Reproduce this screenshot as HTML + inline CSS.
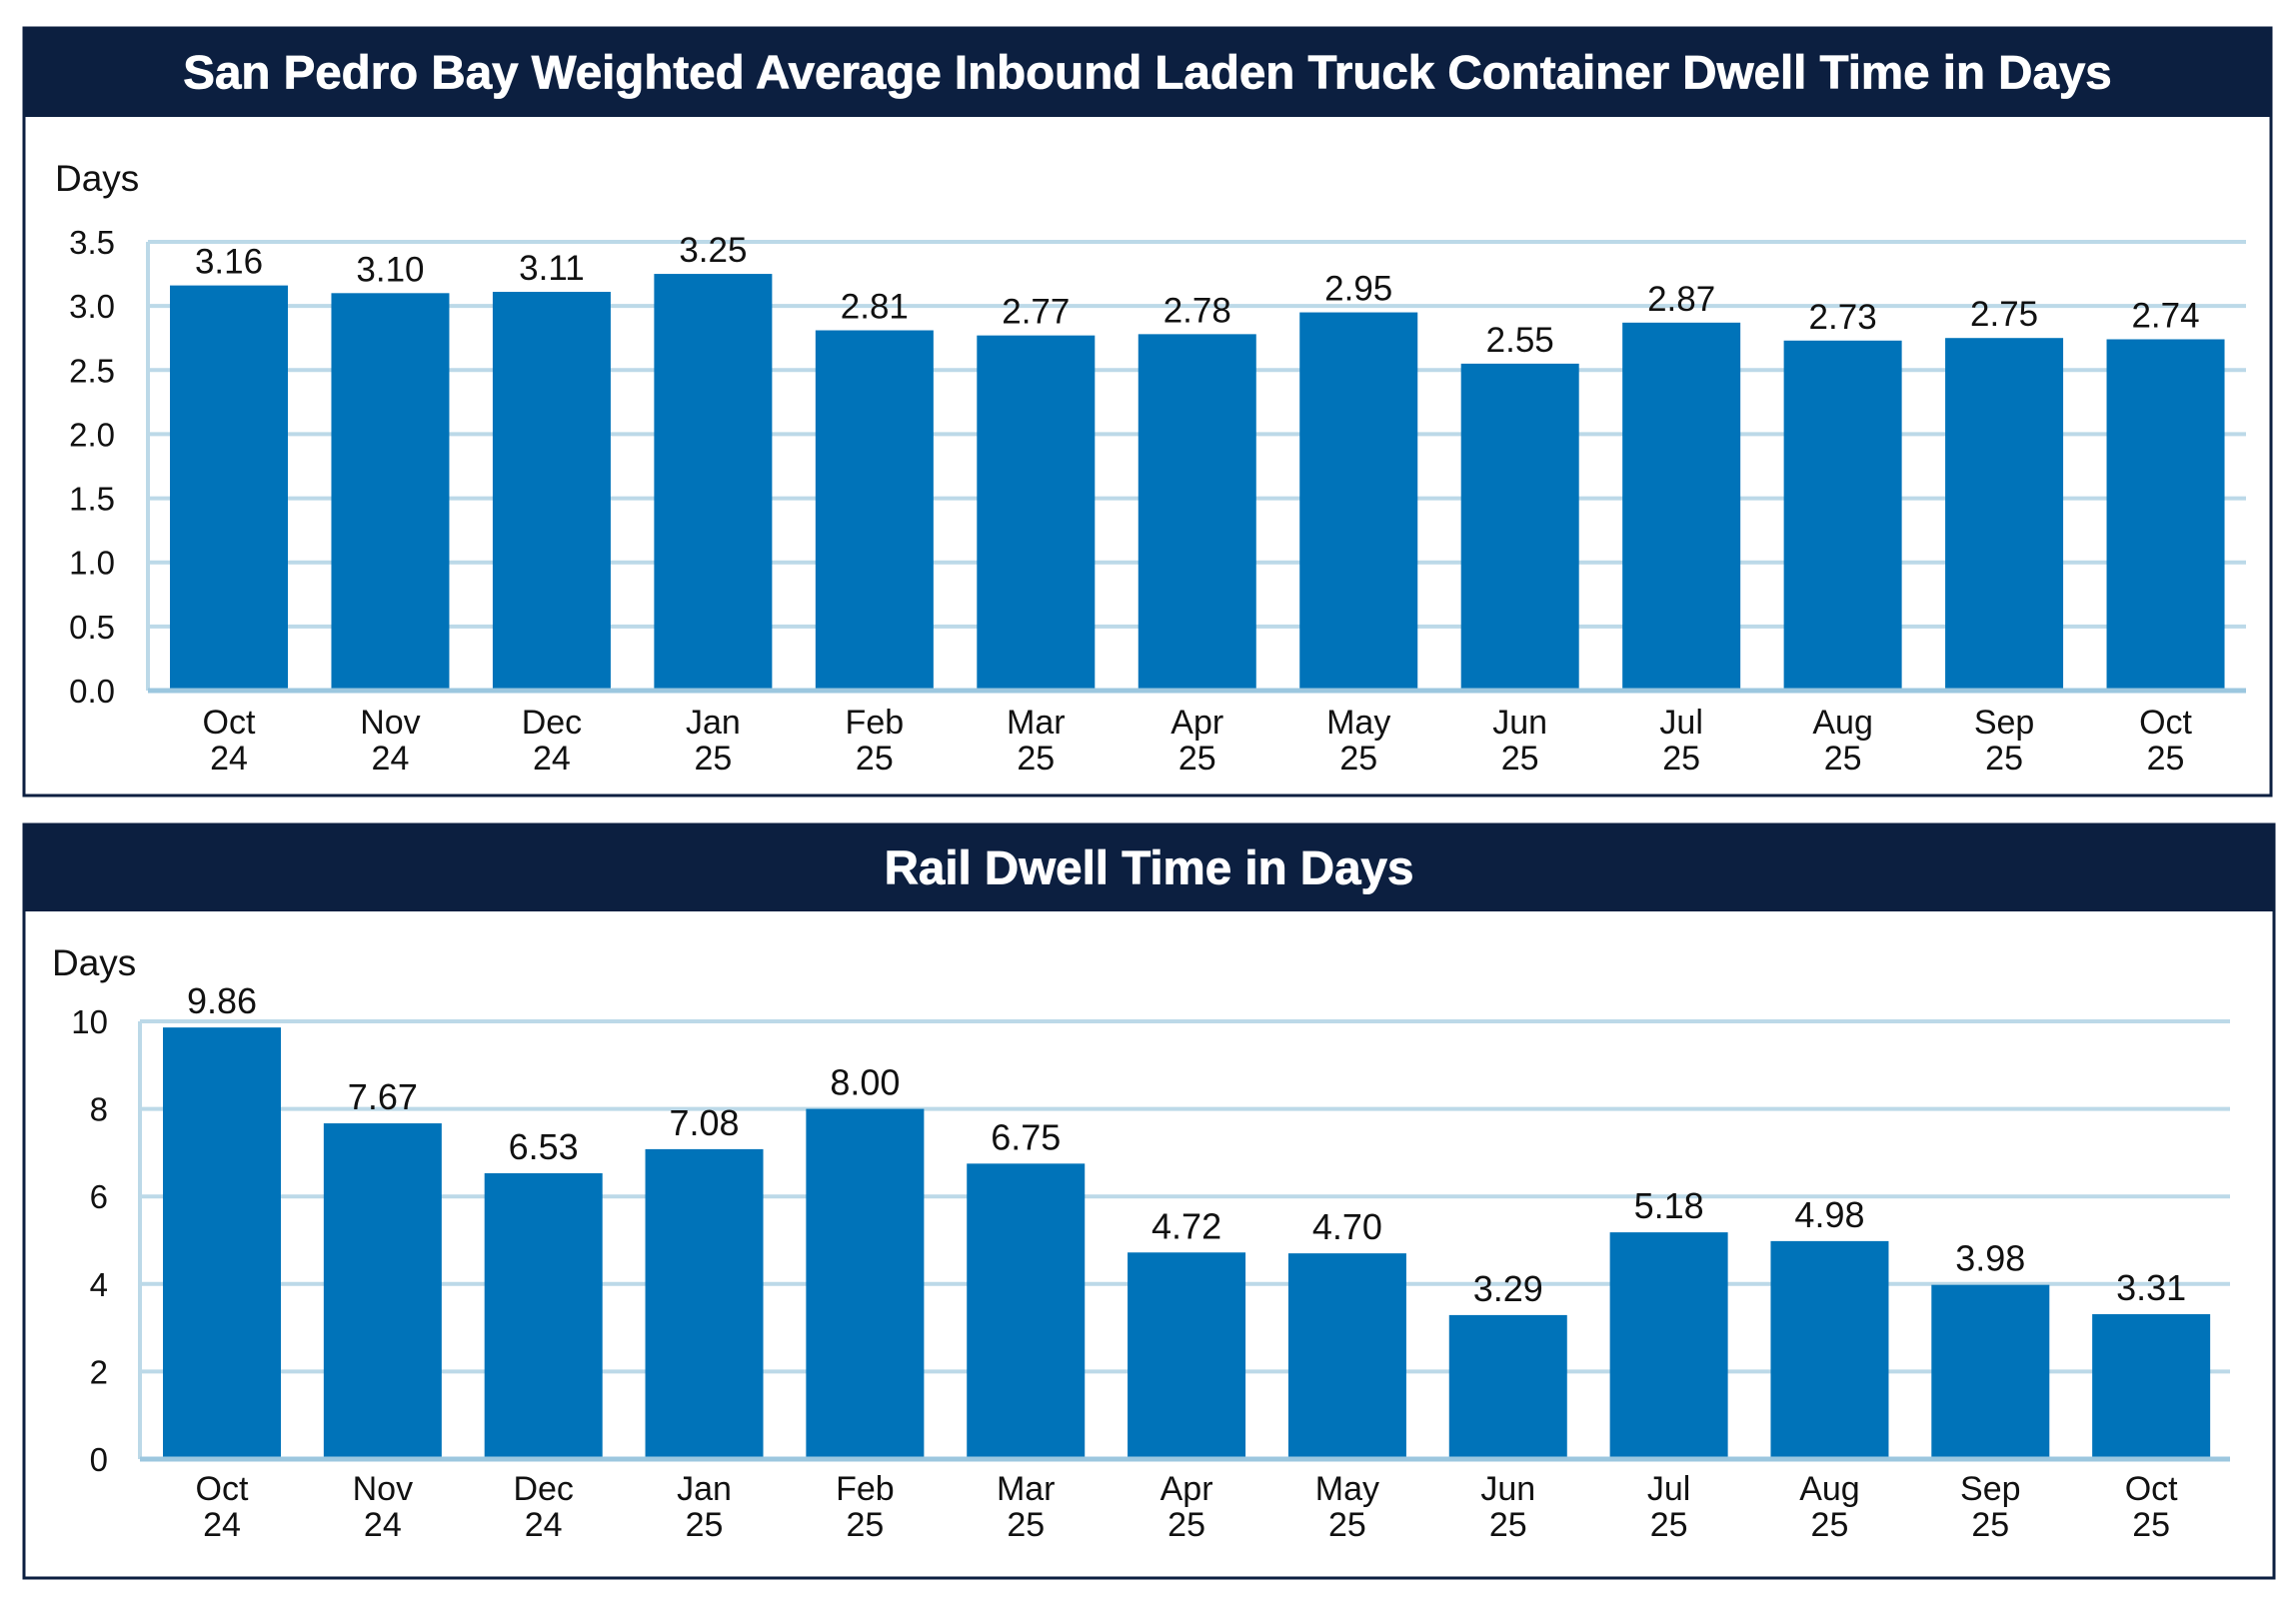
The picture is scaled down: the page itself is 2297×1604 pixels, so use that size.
<!DOCTYPE html>
<html><head><meta charset="utf-8">
<style>
html,body{margin:0;padding:0;background:#fff;}
body{width:2297px;height:1604px;overflow:hidden;position:relative;font-family:"Liberation Sans Narrow","Liberation Sans",sans-serif;}
svg{position:absolute;left:0;top:0;}
</style></head>
<body>
<svg id="chart" width="2297" height="1604" viewBox="0 0 2297 1604"></svg>
<script>
const categories1 = ["Oct|24","Nov|24","Dec|24","Jan|25","Feb|25","Mar|25","Apr|25","May|25","Jun|25","Jul|25","Aug|25","Sep|25","Oct|25"];
const truckValues = [3.16,3.10,3.11,3.25,2.81,2.77,2.78,2.95,2.55,2.87,2.73,2.75,2.74];
const truckTicks = ["0.0","0.5","1.0","1.5","2.0","2.5","3.0","3.5"];
const railValues = [9.86,7.67,6.53,7.08,8.00,6.75,4.72,4.70,3.29,5.18,4.98,3.98,3.31];
const railTicks = ["0","2","4","6","8","10"];

const svg = document.getElementById('chart');
const NS = 'http://www.w3.org/2000/svg';
function mk(tag, attrs, parent){
  const e = document.createElementNS(NS, tag);
  for (const k in attrs) e.setAttribute(k, attrs[k]);
  (parent||svg).appendChild(e);
  return e;
}

function drawChart(cfg){
  const g = mk('g', {});
  
  
  const frame = mk('rect', {x:cfg.fx, y:cfg.fy, width:cfg.fw, height:cfg.fh, fill:'#fff', stroke:'#0c1f40', 'stroke-width':3}, g);
  
  
  const hdr = mk('rect', {x:cfg.fx, y:cfg.fy, width:cfg.fw, height:cfg.hh, fill:'#0c1f40'}, g);
  
  
  const t = mk('text', {x:cfg.fx+cfg.fw/2, y:cfg.fy+cfg.hh/2+16, 'text-anchor':'middle', fill:'#fff', 'font-size':47.5, 'font-weight':'bold', stroke:'#fff', 'stroke-width':0.8, 'font-family':'"Liberation Sans",sans-serif'}, g);
  t.textContent = cfg.title;
  
  
  const yl = mk('text', {x:cfg.daysX, y:cfg.daysY, fill:'#111', 'font-size':37}, g);
  yl.textContent = 'Days';
  
  

  const yScale = v => cfg.y0 - (v - 0) / cfg.max * (cfg.y0 - cfg.yTop);
  cfg.ticks.forEach(tk => {
    const v = parseFloat(tk);
    const y = yScale(v);
    const gl = mk('line', {x1:cfg.ax, x2:cfg.axR, y1:y, y2:y, stroke:'#bcd9e8', 'stroke-width':4}, g);
    
    
    const tl = mk('text', {x:cfg.tickX, y:y+12, 'text-anchor':'end', fill:'#111', 'font-size':33, 'font-family':'"Liberation Sans",sans-serif'}, g);
    tl.textContent = tk;
    
    
  });
  const va = mk('line', {x1:cfg.ax, x2:cfg.ax, y1:cfg.yTop, y2:cfg.y0, stroke:'#bcd9e8', 'stroke-width':4}, g);
  
  
  const band = (cfg.axR - cfg.ax) / cfg.values.length;
  cfg.values.forEach((v, i) => {
    const x = cfg.ax + i*band + cfg.off;
    const yt = yScale(v);
    const b = mk('rect', {x:x, y:yt, width:cfg.bw, height:cfg.y0 - yt, fill:'#0073b9'}, g);
    
    
    const cx = x + cfg.bw/2;
    const lbl = mk('text', {x:cx, y:yt-cfg.vgap, 'text-anchor':'middle', fill:'#111', 'font-size':cfg.vfs, 'font-family':cfg.vff}, g);
    lbl.textContent = v.toFixed(2);
    
    
    const parts = categories1[i].split('|');
    const c1 = mk('text', {x:cx, y:cfg.catY, 'text-anchor':'middle', fill:'#111', 'font-size':34}, g);
    c1.textContent = parts[0];
    
    
    const c2 = mk('text', {x:cx, y:cfg.catY+36, 'text-anchor':'middle', fill:'#111', 'font-size':34}, g);
    c2.textContent = parts[1];
    
    
  });
  const xa = mk('line', {x1:cfg.ax, x2:cfg.axR, y1:cfg.y0, y2:cfg.y0, stroke:'#9cc7df', 'stroke-width':5}, g);
  
  
}

drawChart({name:'truck-dwell-chart', title:'San Pedro Bay Weighted Average Inbound Laden Truck Container Dwell Time in Days',
  fx:24, fy:28, fw:2248, fh:768, hh:89, daysX:55, daysY:191,
  values:truckValues, ticks:truckTicks, max:3.5, y0:691, yTop:242, ax:148, axR:2247, off:22, bw:118,
  tickX:115, catY:734, vfs:35, vgap:12, vff:'"Liberation Sans Narrow","Liberation Sans",sans-serif'});
drawChart({name:'rail-dwell-chart', title:'Rail Dwell Time in Days',
  fx:24, fy:825, fw:2251, fh:754, hh:87, daysX:52, daysY:976,
  values:railValues, ticks:railTicks, max:10, y0:1460, yTop:1022, ax:140, axR:2231, off:23, bw:118,
  tickX:108, catY:1501, vfs:36, vgap:14, vff:'"Liberation Sans",sans-serif'});
</script>
</body></html>
